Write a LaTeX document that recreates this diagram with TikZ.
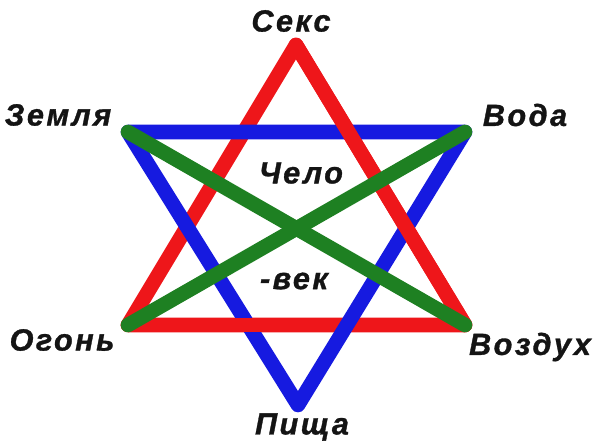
\documentclass[tikz,border=0pt]{standalone}
\usepackage{fontspec}
\setmainfont{Liberation Sans}[LetterSpace=8, FakeBold=1]
\definecolor{starred}{RGB}{238,22,26}
\definecolor{starblue}{RGB}{22,26,224}
\definecolor{stargreen}{RGB}{30,128,34}
\begin{document}
\begin{tikzpicture}[
        x=0.75pt, y=-0.75pt,
        band/.style={line width=11pt, line cap=round, line join=round},
        starlabel/.style={font=\fontsize{23}{23}\selectfont\bfseries\itshape, text=black!92, inner sep=0pt} % bold slanted words
    ]
    \useasboundingbox[fill=white] (0,0) rectangle (600,446);
    % corners of the star
    \coordinate (sex) at (296,45);
    \coordinate (earth) at (128,132);
    \coordinate (water) at (465,132);
    \coordinate (fire) at (128,325);
    \coordinate (air) at (465,325);
    \coordinate (food) at (298,405);
    \coordinate (basemid) at (296,325);
    \draw[band, starred] (sex) -- (air) -- (fire) -- cycle;
    \draw[band, starblue] (earth) -- (water) -- (food) -- cycle;
    % red lies over blue on these parts
    \draw[band, starred] (sex) -- (air);
    \draw[band, starred] (fire) -- (basemid);
    \draw[band, stargreen] (earth) -- (air);
    \draw[band, stargreen] (fire) -- (water);
    \node[starlabel] (sexlabel) at (291,21) {Секс};
    \node[starlabel] (earthlabel) at (58,115) {Земля};
    \node[starlabel] (waterlabel) at (525,115) {Вода};
    \node[starlabel] (firelabel) at (62,340) {Огонь};
    \node[starlabel] (airlabel) at (530,347) {Воздух};
    \node[starlabel] (foodlabel) at (302,427) {Пища};
    \node[starlabel] (manlabel) at (301,173) {Чело};
    \node[starlabel] (manlabeltwo) at (294,281) {-век};
\end{tikzpicture}
\end{document}
